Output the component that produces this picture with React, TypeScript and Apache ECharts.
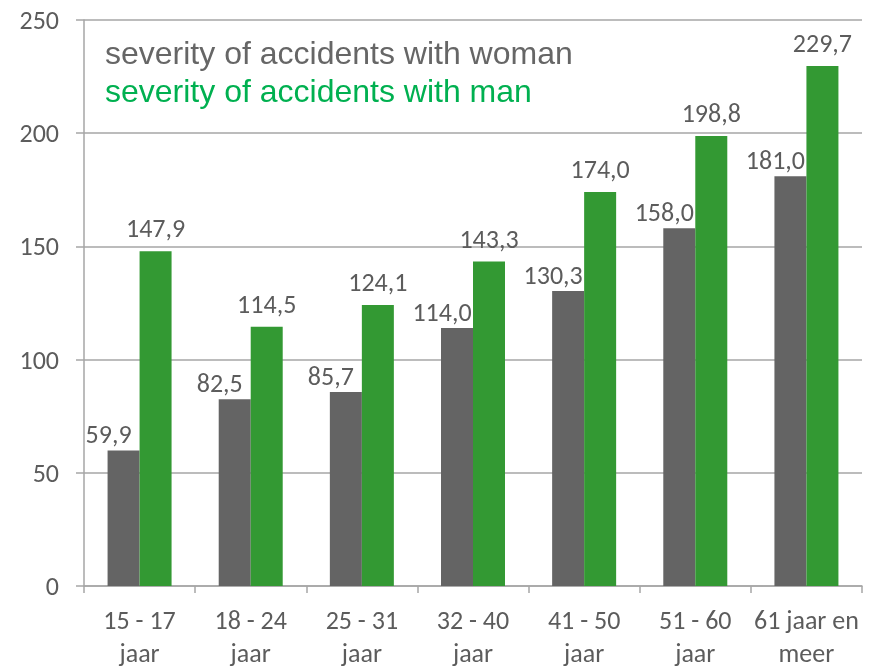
import React, { useEffect, useRef } from "react";
import * as echarts from "echarts";

const categories = [
  "15 - 17\njaar",
  "18 - 24\njaar",
  "25 - 31\njaar",
  "32 - 40\njaar",
  "41 - 50\njaar",
  "51 - 60\njaar",
  "61 jaar en\nmeer",
];
const womanValues = [59.9, 82.5, 85.7, 114.0, 130.3, 158.0, 181.0];
const manValues = [147.9, 114.5, 124.1, 143.3, 174.0, 198.8, 229.7];
const legendLabels = ["severity of accidents with woman", "severity of accidents with man"];

const FONT = "Carlito, Lato, sans-serif";
const AXIS_GRAY = "#a6a6a6";
const TEXT_GRAY = "#5c5c5c";

const fmt = (p: any) => Number(p.value).toFixed(1).replace(".", ",");

export default function App() {
  const ref = useRef<HTMLDivElement>(null);
  useEffect(() => {
    if (!ref.current) return;
    const chart = echarts.init(ref.current, undefined, { renderer: "svg" });
    chart.setOption({
      animation: false,
      grid: { left: 84, right: 14, top: 20, bottom: 81, containLabel: false },
      graphic: [
        {
          type: "text",
          left: 105,
          top: 37,
          style: {
            text: legendLabels[0],
            fill: "#666666",
            font: "32px 'Liberation Sans', Arial, sans-serif",
          },
        },
        {
          type: "text",
          left: 105,
          top: 75,
          style: {
            text: legendLabels[1],
            fill: "#00b050",
            font: "32px 'Liberation Sans', Arial, sans-serif",
          },
        },
      ],
      xAxis: {
        type: "category",
        data: categories,
        axisLine: { show: true, lineStyle: { color: AXIS_GRAY, width: 1.5 } },
        axisTick: { show: true, alignWithLabel: false, length: 7, lineStyle: { color: AXIS_GRAY, width: 1.5 } },
        axisLabel: {
          color: TEXT_GRAY,
          fontFamily: FONT,
          fontSize: 26,
          lineHeight: 33,
          margin: 17,
          interval: 0,
        },
        splitLine: { show: false },
      },
      yAxis: {
        type: "value",
        min: 0,
        max: 250,
        interval: 50,
        axisLine: { show: true, lineStyle: { color: AXIS_GRAY, width: 1.5 } },
        axisTick: { show: true, length: 8, inside: false, lineStyle: { color: AXIS_GRAY, width: 1.5 } },
        axisLabel: {
          color: TEXT_GRAY,
          fontFamily: FONT,
          fontSize: 26,
          margin: 25,
        },
        splitLine: { show: true, lineStyle: { color: AXIS_GRAY, width: 1.5 } },
      },
      series: [
        {
          name: legendLabels[0],
          type: "bar",
          data: womanValues,
          barWidth: 32,
          barGap: "0%",
          itemStyle: { color: "#646464" },
          label: {
            show: true,
            position: "top",
            offset: [-15, 2],
            formatter: fmt,
            color: TEXT_GRAY,
            fontFamily: FONT,
            fontSize: 26,
          },
        },
        {
          name: legendLabels[1],
          type: "bar",
          data: manValues,
          barWidth: 32,
          barGap: "0%",
          itemStyle: { color: "#339933" },
          label: {
            show: true,
            position: "top",
            offset: [0, -5],
            formatter: fmt,
            color: TEXT_GRAY,
            fontFamily: FONT,
            fontSize: 26,
          },
        },
      ],
    });
    return () => chart.dispose();
  }, []);
  return (
    <div
      ref={ref}
      style={{ position: "fixed", left: 0, top: 0, width: 876, height: 669 }}
    />
  );
}
